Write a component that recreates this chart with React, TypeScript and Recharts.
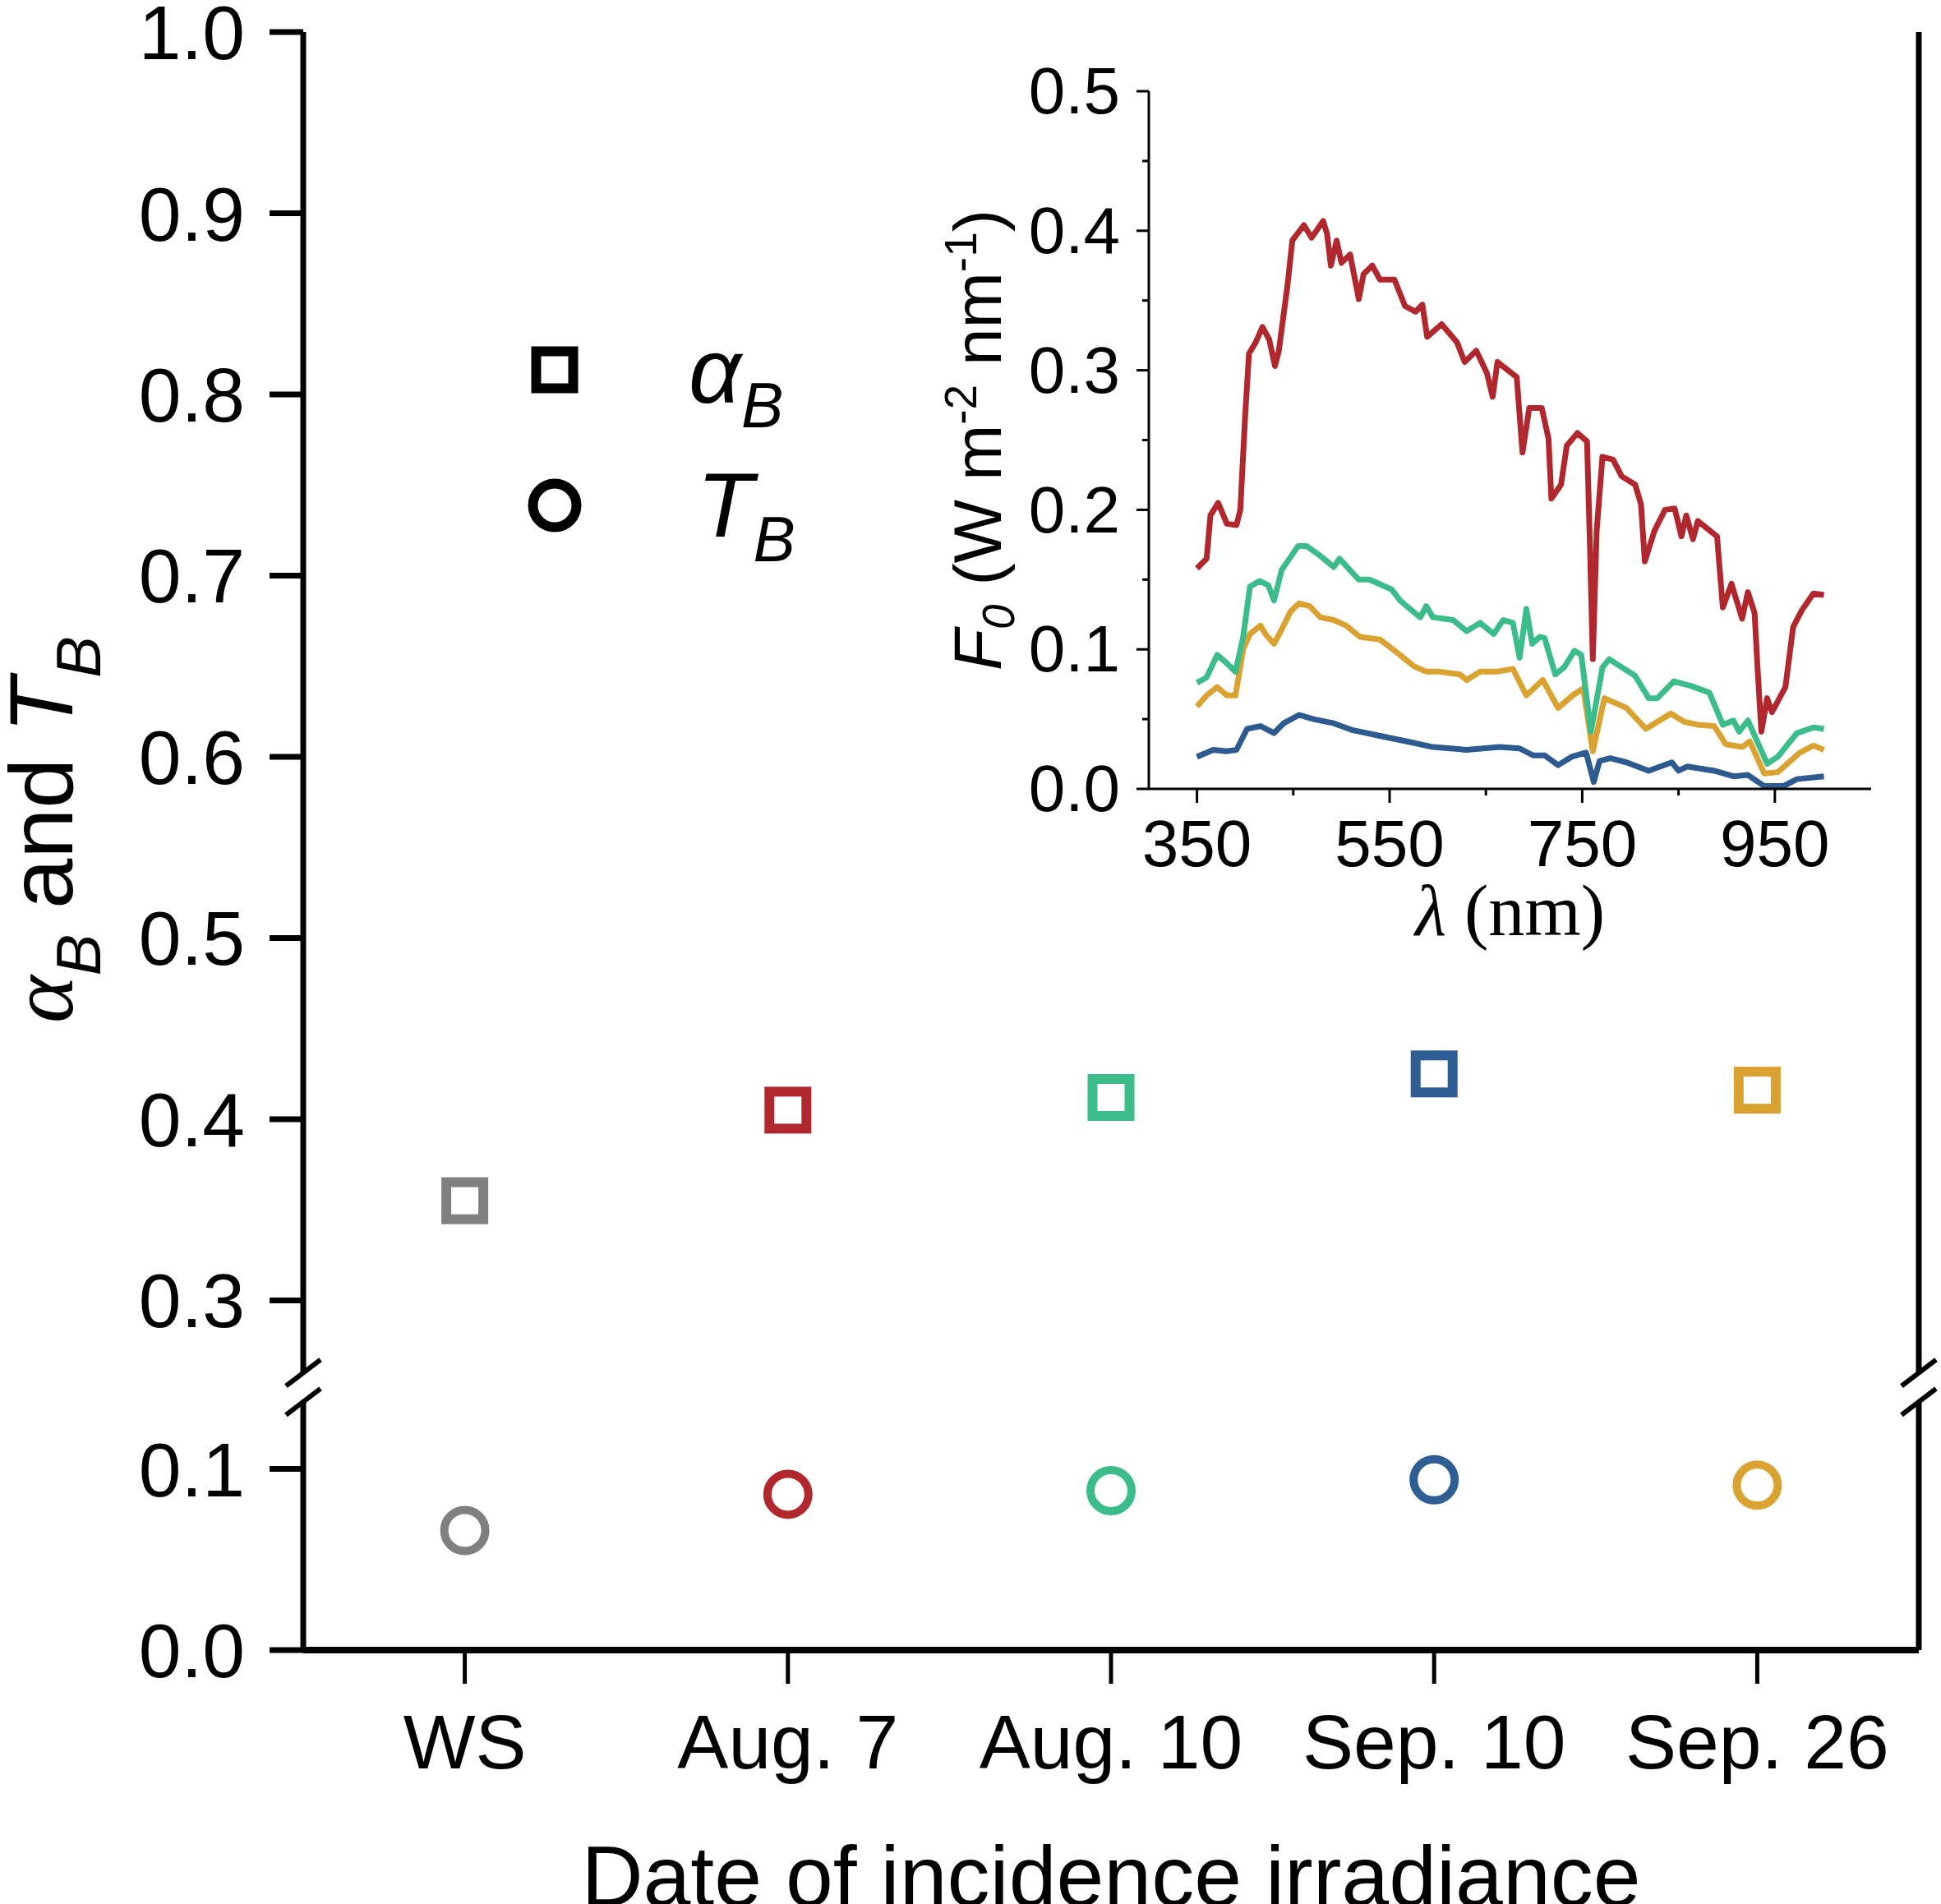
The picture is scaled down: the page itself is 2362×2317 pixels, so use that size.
import React from "react";
import {
  ScatterChart,
  Scatter,
  LineChart,
  Line,
  XAxis,
  YAxis,
  ReferenceLine,
  ReferenceDot,
} from "recharts";

// main panel
const CATEGORIES = ["WS", "Aug. 7", "Aug. 10", "Sep. 10", "Sep. 26"];
const ALPHA_B = [0.355, 0.405, 0.412, 0.425, 0.416];
const T_B = [0.066, 0.086, 0.088, 0.094, 0.091];
const MAIN_Y_TICKS = [0, 0.1, 0.3, 0.4, 0.5, 0.6, 0.7, 0.8, 0.9, 1.0];
const MARKER_COLORS = ["#808080", "#b0282d", "#3cbc8b", "#2e5e93", "#daa331"];

// inset: incident irradiance spectra
const RED_NM = [
  350, 360, 364, 372, 381, 391, 395, 400, 404, 411, 418, 425, 431, 435, 444,
  449, 461, 469, 481, 485, 489, 495, 500, 509, 518, 523, 532, 540, 555, 566,
  577, 584, 589, 604, 620, 628, 640, 651, 657, 662, 682, 688, 695, 708, 715,
  718, 728, 734, 745, 755, 758, 761, 765, 771, 782, 791, 805, 811, 815, 825,
  836, 846, 853, 858, 865, 870, 890, 896, 905, 916, 922, 929, 932, 936, 942,
  947, 961, 969, 978, 990, 1001,
];
const RED_F = [
  0.158, 0.165, 0.196, 0.205, 0.19, 0.189, 0.2, 0.267, 0.312, 0.32, 0.331,
  0.322, 0.303, 0.314, 0.361, 0.393, 0.404, 0.395, 0.407, 0.398, 0.375, 0.393,
  0.377, 0.383, 0.351, 0.369, 0.375, 0.365, 0.365, 0.346, 0.342, 0.347, 0.324,
  0.333, 0.32, 0.306, 0.314, 0.298, 0.281, 0.306, 0.295, 0.241, 0.273, 0.273,
  0.251, 0.208, 0.218, 0.246, 0.255, 0.249, 0.175, 0.093, 0.185, 0.238, 0.236,
  0.224, 0.218, 0.204, 0.163, 0.185, 0.2, 0.201, 0.181, 0.196, 0.179, 0.192,
  0.181, 0.13, 0.147, 0.122, 0.141, 0.126, 0.087, 0.041, 0.065, 0.055, 0.073,
  0.116, 0.128, 0.14, 0.139,
];
const GREEN_NM = [
  350, 360, 371, 381, 390, 398, 405, 415, 424, 430, 438, 447, 455, 464, 478,
  492, 498, 518, 529, 552, 561, 571, 582, 588, 595, 616, 630, 644, 658, 668,
  678, 685, 692, 698, 706, 711, 722, 731, 742, 749, 759, 771, 778, 805, 819,
  828, 845, 862, 882, 896, 907, 913, 922, 942, 953, 973, 990, 1001,
];
const GREEN_F = [
  0.076, 0.08, 0.096, 0.09, 0.084, 0.109, 0.145, 0.149, 0.146, 0.135, 0.157,
  0.166, 0.174, 0.174, 0.167, 0.159, 0.165, 0.15, 0.15, 0.143, 0.135, 0.129,
  0.123, 0.131, 0.123, 0.121, 0.113, 0.119, 0.111, 0.121, 0.119, 0.094, 0.129,
  0.104, 0.109, 0.108, 0.082, 0.087, 0.099, 0.096, 0.041, 0.087, 0.093, 0.081,
  0.065, 0.065, 0.077, 0.074, 0.069, 0.046, 0.049, 0.041, 0.049, 0.018, 0.023,
  0.04, 0.044, 0.043,
];
const GOLD_NM = [
  350, 360, 371, 381, 390, 398, 405, 416, 421, 430, 440, 447, 456, 467, 478,
  492, 505, 519, 540, 557, 575, 588, 602, 623, 630, 644, 661, 678, 692, 709,
  725, 740, 751, 761, 773, 796, 816, 842, 856, 870, 887, 899, 916, 924, 939,
  953, 976, 990, 1001,
];
const GOLD_F = [
  0.059, 0.067, 0.073, 0.067, 0.067, 0.1, 0.111, 0.117, 0.111, 0.104, 0.117,
  0.127, 0.133, 0.131, 0.123, 0.121, 0.117, 0.109, 0.107, 0.098, 0.088, 0.084,
  0.084, 0.082, 0.078, 0.084, 0.084, 0.086, 0.067, 0.078, 0.058, 0.067, 0.072,
  0.027, 0.065, 0.058, 0.043, 0.054, 0.048, 0.046, 0.045, 0.032, 0.03, 0.034,
  0.011, 0.012, 0.026, 0.031, 0.028,
];
const BLUE_NM = [
  350, 367, 381, 391, 402, 416, 430, 440, 456, 471, 492, 512, 540, 568, 595,
  630, 664, 685, 699, 711, 725, 739, 754, 762, 768, 779, 796, 819, 843, 850,
  859, 887, 907, 922, 939, 959, 973, 1001,
];
const BLUE_F = [
  0.023, 0.028, 0.027, 0.028, 0.043, 0.045, 0.04, 0.047, 0.053, 0.05, 0.047,
  0.042, 0.038, 0.034, 0.03, 0.028, 0.03, 0.029, 0.024, 0.024, 0.017, 0.023,
  0.026, 0.005, 0.02, 0.022, 0.019, 0.013, 0.019, 0.013, 0.016, 0.013, 0.009,
  0.01, 0.002, 0.002, 0.007, 0.009,
];
const INSET_X_TICKS = [350, 450, 550, 650, 750, 850, 950];
const INSET_Y_TICKS = [0, 0.05, 0.1, 0.15, 0.2, 0.25, 0.3, 0.35, 0.4, 0.45, 0.5];

const SANS = "'Liberation Sans', Arial, sans-serif";
const SERIF = "'Liberation Serif', 'Times New Roman', serif";

// broken y axis: values above the break are shifted down by the removed span
const BREAK_GAP = 0.107;
const BREAK_LOW = 0.137;
const BREAK_HIGH = 0.153;
const toAxis = (v: number) => (v > 0.2 ? v - BREAK_GAP : v);
const fromAxis = (t: number) => (t > 0.145 ? t + BREAK_GAP : t);

const alphaData = ALPHA_B.map((v, i) => ({ x: i, y: toAxis(v) }));
const tData = T_B.map((v, i) => ({ x: i, y: toAxis(v) }));

const zip = (nm: number[], f: number[]) => nm.map((n, i) => ({ nm: n, f: f[i] }));
const redData = zip(RED_NM, RED_F);
const greenData = zip(GREEN_NM, GREEN_F);
const goldData = zip(GOLD_NM, GOLD_F);
const blueData = zip(BLUE_NM, BLUE_F);

const SquareMarker = (props: any) => {
  const { cx, cy, payload } = props;
  return (
    <rect
      x={cx - 22.5}
      y={cy - 22.5}
      width={45}
      height={45}
      fill="none"
      stroke={MARKER_COLORS[payload.x]}
      strokeWidth={12}
    />
  );
};

const CircleMarker = (props: any) => {
  const { cx, cy, payload } = props;
  return (
    <circle cx={cx} cy={cy} r={25} fill="none" stroke={MARKER_COLORS[payload.x]} strokeWidth={10} />
  );
};

const BreakSlash = (props: any) => (
  <line
    x1={props.cx - 21}
    y1={props.cy + 16}
    x2={props.cx + 21}
    y2={props.cy - 16}
    stroke="#000"
    strokeWidth={6}
  />
);

const MainYTitle = (props: any) => {
  const vb = props.viewBox;
  const x = vb.x + 88;
  const y = vb.y + vb.height / 2 - 14;
  return (
    <text
      x={x}
      y={y}
      transform={`rotate(-90 ${x} ${y})`}
      textAnchor="middle"
      fontFamily={SANS}
      fontSize={110}
      fill="#000"
    >
      <tspan fontFamily={SERIF} fontStyle="italic">α</tspan>
      <tspan fontStyle="italic" fontSize={76} dy={34}>B</tspan>
      <tspan dy={-34}>{" and "}</tspan>
      <tspan fontStyle="italic">T</tspan>
      <tspan fontStyle="italic" fontSize={76} dy={34}>B</tspan>
    </text>
  );
};

const MainXTitle = (props: any) => {
  const vb = props.viewBox;
  return (
    <text
      x={vb.x + vb.width / 2}
      y={vb.y + 311}
      textAnchor="middle"
      fontFamily={SANS}
      fontSize={104}
      fill="#000"
    >
      Date of incidence irradiance
    </text>
  );
};

const InsetYTick = (props: any) => {
  const { x, y, payload } = props;
  const major = Math.round(payload.value * 100) % 10 === 0;
  return (
    <g>
      <line x1={x} y1={y} x2={x - (major ? 15 : 8)} y2={y} stroke="#000" strokeWidth={3} />
      {major && (
        <text x={x - 35} y={y} dy="0.34em" textAnchor="end" fontFamily={SANS} fontSize={80} fill="#000">
          {payload.value.toFixed(1)}
        </text>
      )}
    </g>
  );
};

const InsetXTick = (props: any) => {
  const { x, y, payload } = props;
  const major = (payload.value - 350) % 200 === 0;
  return (
    <g>
      <line x1={x} y1={y} x2={x} y2={y + (major ? 17 : 8)} stroke="#000" strokeWidth={3} />
      {major && (
        <text x={x} y={y + 37} dy="0.71em" textAnchor="middle" fontFamily={SANS} fontSize={80} fill="#000">
          {payload.value}
        </text>
      )}
    </g>
  );
};

const InsetYTitle = (props: any) => {
  const vb = props.viewBox;
  const x = vb.x + 118;
  const y = vb.y + vb.height / 2;
  return (
    <text
      x={x}
      y={y}
      transform={`rotate(-90 ${x} ${y})`}
      textAnchor="middle"
      fontFamily={SANS}
      fontSize={82}
      fill="#000"
    >
      <tspan fontStyle="italic">F</tspan>
      <tspan fontStyle="italic" fontSize={55} dy={16}>0</tspan>
      <tspan dy={-16}>{" (W m"}</tspan>
      <tspan fontSize={55} dy={-30}>-2</tspan>
      <tspan dy={30}>{" nm"}</tspan>
      <tspan fontSize={55} dy={-30}>-1</tspan>
      <tspan dy={30}>)</tspan>
    </text>
  );
};

const InsetXTitle = (props: any) => {
  const vb = props.viewBox;
  return (
    <text
      x={vb.x + vb.width / 2}
      y={vb.y + 178}
      textAnchor="middle"
      fontFamily={SERIF}
      fontSize={88}
      fill="#000"
    >
      <tspan fontStyle="italic">λ</tspan>
      <tspan>{" (nm)"}</tspan>
    </text>
  );
};

function Legend() {
  return (
    <svg width={2362} height={2317} style={{ position: "absolute", left: 0, top: 0, pointerEvents: "none" }}>
      <rect x={652.5} y={427.5} width={45} height={45} fill="none" stroke="#000" strokeWidth={12} />
      <circle cx={675} cy={615} r={26.5} fill="none" stroke="#000" strokeWidth={12} />
      <text x={838} y={490} fontFamily={SANS} fontSize={112} fontStyle="italic" fill="#000">
        α<tspan fontSize={77} dy={30}>B</tspan>
      </text>
      <text x={848} y={653} fontFamily={SANS} fontSize={112} fontStyle="italic" fill="#000">
        T<tspan fontSize={77} dy={30}>B</tspan>
      </text>
    </svg>
  );
}

export default function App() {
  const axisLine = { stroke: "#000", strokeWidth: 7 };
  return (
    <div
      style={{
        position: "absolute",
        left: 0,
        top: 0,
        width: 2362,
        height: 2317,
        background: "#fff",
        overflow: "hidden",
      }}
    >
      <div style={{ position: "absolute", left: 0, top: 0 }}>
        <ScatterChart width={2362} height={2317} margin={{ top: 39, right: 27, bottom: 0, left: 0 }}>
          <XAxis
            type="number"
            dataKey="x"
            domain={[-0.5, 4.5]}
            ticks={[0, 1, 2, 3, 4]}
            interval={0}
            allowDataOverflow
            tickFormatter={(i: number) => CATEGORIES[i]}
            height={309}
            axisLine={{ stroke: "#000", strokeWidth: 8 }}
            tickLine={{ stroke: "#000", strokeWidth: 5 }}
            tickSize={41}
            tickMargin={37}
            tick={{ fill: "#000", fontSize: 93, fontFamily: SANS }}
            label={MainXTitle}
          />
          <XAxis
            xAxisId="top"
            orientation="top"
            type="number"
            domain={[-0.5, 4.5]}
            height={0}
            tick={false}
            tickLine={false}
            axisLine={axisLine}
          />
          <YAxis
            type="number"
            dataKey="y"
            domain={[0, toAxis(1.0)]}
            ticks={MAIN_Y_TICKS.map(toAxis)}
            interval={0}
            allowDataOverflow
            tickFormatter={(t: number) => fromAxis(t).toFixed(1)}
            width={369}
            axisLine={false}
            tickLine={{ stroke: "#000", strokeWidth: 7 }}
            tickSize={41}
            tickMargin={30}
            tick={{ fill: "#000", fontSize: 93, fontFamily: SANS }}
            label={MainYTitle}
          />
          {[-0.5, 4.5].map((xv) => (
            <ReferenceLine
              key={`lo${xv}`}
              segment={[{ x: xv, y: 0 }, { x: xv, y: BREAK_LOW }]}
              stroke="#000"
              strokeWidth={7}
              ifOverflow="visible"
            />
          ))}
          {[-0.5, 4.5].map((xv) => (
            <ReferenceLine
              key={`hi${xv}`}
              segment={[{ x: xv, y: BREAK_HIGH }, { x: xv, y: toAxis(1.0) }]}
              stroke="#000"
              strokeWidth={7}
              ifOverflow="visible"
            />
          ))}
          {[-0.5, 4.5].flatMap((xv) =>
            [BREAK_LOW, BREAK_HIGH].map((yv) => (
              <ReferenceDot key={`b${xv}${yv}`} x={xv} y={yv} r={1} ifOverflow="visible" shape={BreakSlash} />
            ))
          )}
          <Scatter data={alphaData} shape={SquareMarker} isAnimationActive={false} />
          <Scatter data={tData} shape={CircleMarker} isAnimationActive={false} />
        </ScatterChart>
      </div>

      <Legend />

      <div style={{ position: "absolute", left: 1100, top: 40 }}>
        <LineChart width={1200} height={1140} margin={{ top: 71, right: 23, bottom: 0, left: 0 }}>
          <XAxis
            type="number"
            dataKey="nm"
            domain={[300, 1050]}
            ticks={INSET_X_TICKS}
            interval={0}
            allowDataOverflow
            height={220}
            axisLine={{ stroke: "#000", strokeWidth: 3 }}
            tickLine={false}
            tickSize={0}
            tickMargin={0}
            tick={InsetXTick}
            label={InsetXTitle}
          />
          <XAxis
            xAxisId="top"
            orientation="top"
            type="number"
            domain={[300, 1050]}
            height={0}
            tick={false}
            tickLine={false}
            axisLine={{ stroke: "#000", strokeWidth: 3 }}
          />
          <YAxis
            type="number"
            domain={[0, 0.5]}
            ticks={INSET_Y_TICKS}
            interval={0}
            allowDataOverflow
            width={298}
            axisLine={{ stroke: "#000", strokeWidth: 3 }}
            tickLine={false}
            tickSize={0}
            tickMargin={0}
            tick={InsetYTick}
            label={InsetYTitle}
          />
          <YAxis
            yAxisId="right"
            orientation="right"
            type="number"
            domain={[0, 0.5]}
            width={0}
            tick={false}
            tickLine={false}
            axisLine={{ stroke: "#000", strokeWidth: 3 }}
          />
          <Line data={blueData} dataKey="f" type="linear" stroke="#2d5b8f" strokeWidth={7} strokeLinejoin="round" dot={false} isAnimationActive={false} />
          <Line data={goldData} dataKey="f" type="linear" stroke="#daa331" strokeWidth={7} strokeLinejoin="round" dot={false} isAnimationActive={false} />
          <Line data={greenData} dataKey="f" type="linear" stroke="#3cbc8b" strokeWidth={7} strokeLinejoin="round" dot={false} isAnimationActive={false} />
          <Line data={redData} dataKey="f" type="linear" stroke="#b0282d" strokeWidth={7} strokeLinejoin="round" dot={false} isAnimationActive={false} />
        </LineChart>
      </div>
    </div>
  );
}
